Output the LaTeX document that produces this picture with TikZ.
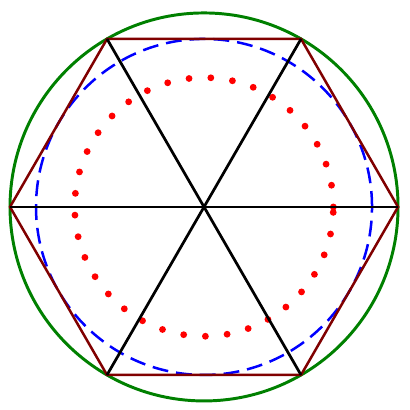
\documentclass[tikz,border=0pt]{standalone}
\usepackage{amsmath}
\usepackage{amssymb}
\usepackage{tikz}
\usepackage{xcolor}

\definecolor{circgreen}{RGB}{0,128,0}
\definecolor{hexbrown}{RGB}{128,0,0}

\begin{document}
\begin{tikzpicture}[
  outercirc/.style={draw=circgreen, line width=1.3pt},
  hexside/.style={draw=hexbrown, line width=1.1pt},
  spoke/.style={draw=black, line width=1.2pt},
  incirc/.style={draw=blue, line width=1.1pt, dash pattern=on 7pt off 3.5pt},
  dotcirc/.style={draw=red, line width=3pt, line cap=round, dash pattern=on 0pt off 9.6pt}
]
\useasboundingbox (-3.155,-3.14) rectangle (3.185,3.2);
\coordinate (O) at (0,0);
\foreach \i in {0,...,5}
  \coordinate (V\i) at ({60*\i}:3);

\draw[outercirc] (O) circle (3);
\draw[incirc] (O) circle ({3*sqrt(3)/2});
\draw[dotcirc] (O) circle (2);

\draw[hexside] (V0) -- (V1) -- (V2) -- (V3) -- (V4) -- (V5) -- cycle;
\draw[spoke] (V0) -- (V3);
\draw[spoke] (V1) -- (V4);
\draw[spoke] (V2) -- (V5);
\end{tikzpicture}
\end{document}
